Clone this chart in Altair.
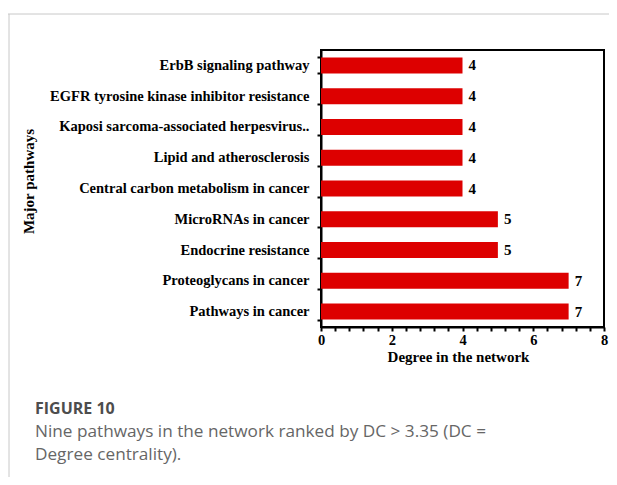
import altair as alt
import pandas as pd

pathways = [
    "ErbB signaling pathway",
    "EGFR tyrosine kinase inhibitor resistance",
    "Kaposi sarcoma-associated herpesvirus..",
    "Lipid and atherosclerosis",
    "Central carbon metabolism in cancer",
    "MicroRNAs in cancer",
    "Endocrine resistance",
    "Proteoglycans in cancer",
    "Pathways in cancer",
]
degrees = [4, 4, 4, 4, 4, 5, 5, 7, 7]

x_tick_values = [round(i * 0.4, 1) for i in range(21)]
x_label_values = [0, 2, 4, 6, 8]

caption_head = "FIGURE 10"
caption_lines = [
    "Nine pathways in the network ranked by DC > 3.35 (DC =",
    "Degree centrality).",
]

df = pd.DataFrame({"pathway": pathways, "degree": degrees})

SERIF = "Liberation Serif"
SANS = "Open Sans"

label_list = "[" + ",".join(str(v) for v in x_label_values) + "]"

y_enc = alt.Y(
    "pathway:N",
    sort=pathways,
    scale=alt.Scale(paddingInner=0.48, paddingOuter=0.24),
    axis=alt.Axis(
        title="Major pathways",
        tickBand="extent",
        titleX=-293,
        titleY=131,
        titleAngle=270,
        titleAlign="center",
        titleBaseline="middle",
    ),
)
x_enc = alt.X(
    "degree:Q",
    scale=alt.Scale(domain=[0, 8], nice=False),
    axis=alt.Axis(
        title="Degree in the network",
        values=x_tick_values,
        tickCount=len(x_tick_values),
        labelExpr="indexof(" + label_list + ", round(datum.value*10)/10) >= 0 ? format(datum.value, 'd') : ''",
        labelOverlap=False,
        labelFlush=False,
        labelPadding=2,
        grid=False,
        titleX=137,
        titleY=34,
        titleAlign="center",
        titleBaseline="alphabetic",
    ),
)

bars = alt.Chart(df).mark_bar(color="#DD0000").encode(x=x_enc, y=y_enc)
labels = alt.Chart(df).mark_text(
    align="left", baseline="middle", dx=6, font=SERIF, fontWeight="bold",
    fontSize=15, color="black",
).encode(x="degree:Q", y=alt.Y("pathway:N", sort=pathways), text="degree:Q")

one = alt.Data(values=[{}])
top_line = alt.Chart(one).mark_rule(color="#c8c8c8", strokeWidth=1).encode(
    x=alt.value(-313), x2=alt.value(300), y=alt.value(-36))
left_line = alt.Chart(one).mark_rule(color="#c8c8c8", strokeWidth=1).encode(
    x=alt.value(-312), y=alt.value(-36), y2=alt.value(440))

head = alt.Chart(one).mark_text(
    align="left", baseline="alphabetic", font=SANS, fontWeight="bold",
    fontSize=16, color="#4d4d4d",
).encode(x=alt.value(-286), y=alt.value(364), text=alt.value(caption_head))

cap_layers = []
for i, line in enumerate(caption_lines):
    cap_layers.append(
        alt.Chart(one).mark_text(
            align="left", baseline="alphabetic", font=SANS, fontSize=17.2,
            color="#666666",
        ).encode(x=alt.value(-286), y=alt.value(387 + 23 * i), text=alt.value(line))
    )

chart = alt.layer(bars, labels, top_line, left_line, head, *cap_layers).properties(
    width=283,
    height=277,
    autosize=alt.AutoSizeParams(type="none"),
    padding={"left": 313, "top": 42, "right": 5, "bottom": 150},
).configure_view(
    stroke="black", strokeWidth=2
).configure_axis(
    domainColor="black", domainWidth=2, tickColor="black", tickWidth=2,
    tickSize=4, labelFont=SERIF, labelFontWeight="bold", labelFontSize=14.5,
    labelColor="black", titleFont=SERIF, titleFontWeight="bold",
    titleFontSize=15, titleColor="black", labelPadding=4,
).configure_axisY(labelLimit=400, labelPadding=8)

chart.save("out.html", embed_options={"renderer": "svg", "actions": False})
